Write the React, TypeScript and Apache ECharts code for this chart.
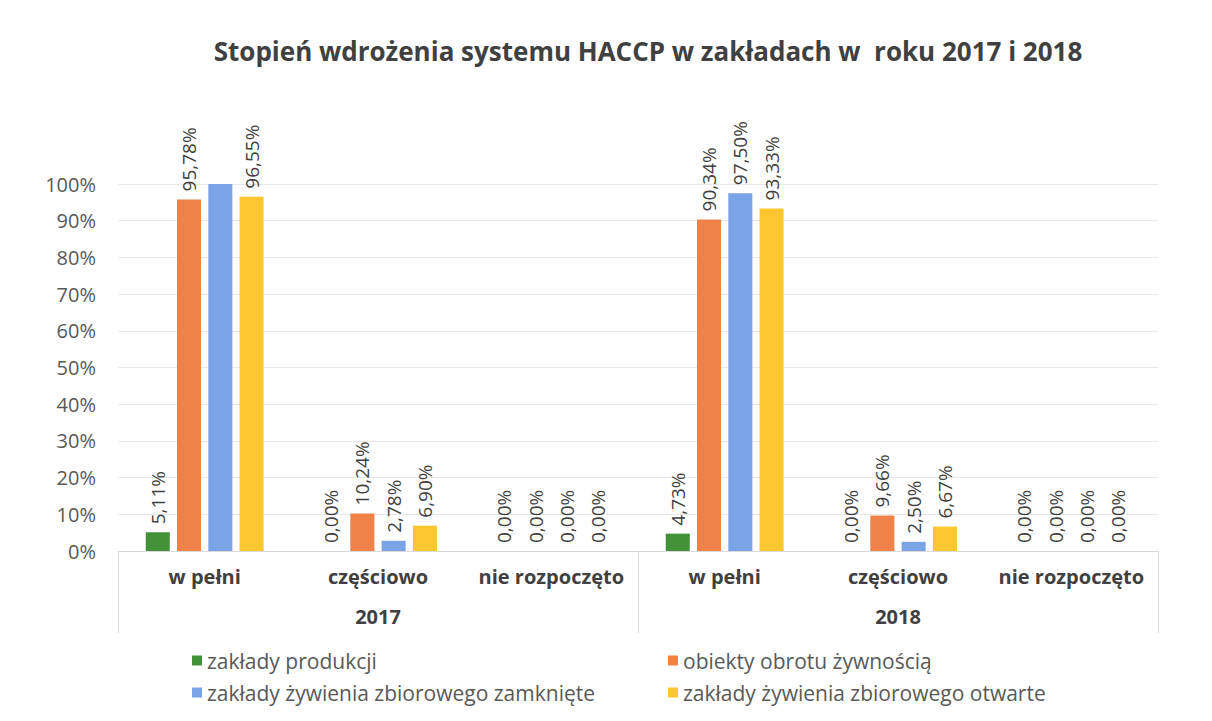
import React, { useEffect, useRef } from "react";
import * as echarts from "echarts";

const categories = ["w pełni", "częściowo", "nie rozpoczęto", "w pełni", "częściowo", "nie rozpoczęto"];
const years = ["2017", "2018"];
const seriesNames = [
  "zakłady produkcji",
  "obiekty obrotu żywnością",
  "zakłady żywienia zbiorowego zamknięte",
  "zakłady żywienia zbiorowego otwarte",
];
const produkcji = [5.11, 0, 0, 4.73, 0, 0];
const obrotu = [95.78, 10.24, 0, 90.34, 9.66, 0];
const zamkniete = [100, 2.78, 0, 97.5, 2.5, 0];
const otwarte = [96.55, 6.9, 0, 93.33, 6.67, 0];
const yTicks = { min: 0, max: 100, interval: 10 };

const colors = ["#43923a", "#ef8249", "#7ba4e6", "#fcc72f"];
const FONT = "'Open Sans', 'Noto Sans', sans-serif";

export default function App() {
  const ref = useRef<HTMLDivElement>(null);
  useEffect(() => {
    const chart = echarts.init(ref.current!, undefined, { renderer: "svg" });
    const all = [produkcji, obrotu, zamkniete, otwarte];
    const fmt = (v: number) => v.toFixed(2).replace(".", ",") + "%";
    const legendText = { fontSize: 21, color: "#595959", fontFamily: FONT };
    chart.setOption({
      animation: false,
      textStyle: { fontFamily: FONT },
      title: {
        text: "Stopień wdrożenia systemu HACCP w zakładach w  roku 2017 i 2018",
        left: 643,
        textAlign: "center",
        top: 33,
        textStyle: { fontSize: 26, fontWeight: "bold", color: "#404040", fontFamily: FONT },
      },
      legend: [
        {
          orient: "vertical",
          left: 187,
          top: 645,
          itemWidth: 10,
          itemHeight: 10,
          itemGap: 11,
          icon: "rect",
          data: [seriesNames[0], seriesNames[2]],
          textStyle: legendText,
        },
        {
          orient: "vertical",
          left: 663,
          top: 645,
          itemWidth: 10,
          itemHeight: 10,
          itemGap: 11,
          icon: "rect",
          data: [seriesNames[1], seriesNames[3]],
          textStyle: legendText,
        },
      ],
      grid: { left: 118, right: 54, top: 184, bottom: 170, containLabel: false },
      xAxis: [
        {
          type: "category",
          data: categories,
          position: "bottom",
          axisLine: { show: true, lineStyle: { color: "#d9d9d9" } },
          axisTick: { show: false },
          axisLabel: { interval: 0, margin: 15, fontSize: 20, fontWeight: "bold", color: "#404040", fontFamily: FONT },
        },
        {
          type: "category",
          data: years,
          position: "bottom",
          axisLine: { show: false },
          axisTick: { show: true, length: 82, lineStyle: { color: "#d9d9d9" } },
          axisLabel: { interval: 0, margin: 55, fontSize: 20, fontWeight: "bold", color: "#404040", fontFamily: FONT },
        },
      ],
      yAxis: {
        type: "value",
        min: yTicks.min,
        max: yTicks.max,
        interval: yTicks.interval,
        axisLine: { show: false },
        axisTick: { show: false },
        splitLine: { lineStyle: { color: "#e8e8e8" } },
        axisLabel: { formatter: "{value}%", fontSize: 20, color: "#595959", margin: 22, fontFamily: FONT },
      },
      series: all.map((vals, si) => ({
        name: seriesNames[si],
        type: "bar",
        xAxisIndex: 0,
        barGap: "30%",
        barCategoryGap: "32%",
        itemStyle: { color: colors[si] },
        label: {
          show: true,
          position: "top",
          rotate: 90,
          align: "left",
          verticalAlign: "middle",
          distance: 8,
          fontSize: 19,
          color: "#404040",
          fontFamily: FONT,
          formatter: (p: any) => fmt(p.value),
        },
        data: vals.map((v, i) =>
          si === 2 && i === 0 ? { value: v, label: { show: false } } : v
        ),
      })),
    });
    return () => chart.dispose();
  }, []);
  return (
    <div
      ref={ref}
      style={{ position: "absolute", left: 0, top: 0, width: 1212, height: 721, background: "#fff" }}
    />
  );
}
